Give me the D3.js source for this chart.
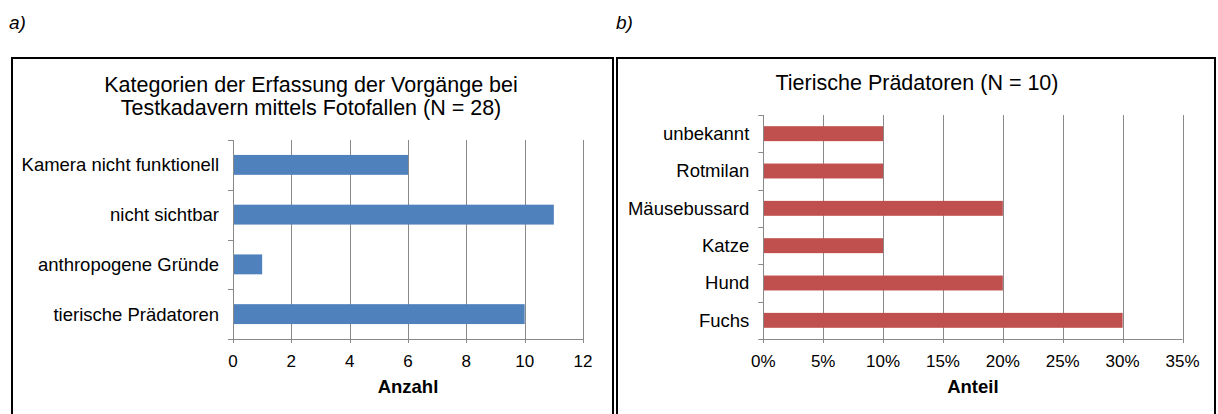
<!DOCTYPE html>
<meta charset="utf-8" />
<style>
  body { margin: 0; background: #fff; }
  svg text { font-family: "Liberation Sans", Arial, sans-serif; fill: #000; }
</style>
<script src="https://cdnjs.cloudflare.com/ajax/libs/d3/7.8.5/d3.min.js"></script>
<svg id="chart" width="1218" height="414"></svg>
<script>
  // chart a) Kategorien
  const catsA = ["Kamera nicht funktionell", "nicht sichtbar", "anthropogene Gründe", "tierische Prädatoren"];
  const valsA = [6, 11, 1, 10];
  const ticksA = [0, 2, 4, 6, 8, 10, 12];

  // chart b) Tierische Prädatoren (Anteil)
  const catsB = ["unbekannt", "Rotmilan", "Mäusebussard", "Katze", "Hund", "Fuchs"];
  const valsB = [0.10, 0.10, 0.20, 0.10, 0.20, 0.30];
  const ticksB = [0, 0.05, 0.10, 0.15, 0.20, 0.25, 0.30, 0.35];

  const svg = d3.select('#chart');
  const gridColor = '#898989';

  // panel letters
  svg.append('text').attr('x', 9).attr('y', 29).style('font-size', '19px')
    .style('font-style', 'italic').text('a)');
  svg.append('text').attr('x', 616).attr('y', 29).style('font-size', '19px')
    .style('font-style', 'italic').text('b)');

  // frames
  svg.append('path').attr('d', 'M12,420V58H613V420')
    .attr('fill', 'none').attr('stroke', '#000').attr('stroke-width', 2);
  svg.append('path').attr('d', 'M617,420V58H1215V420')
    .attr('fill', 'none').attr('stroke', '#000').attr('stroke-width', 2);

  function drawBars(opt) {
    const g = svg.append('g');
    const x = d3.scaleLinear().domain(opt.domain).range([opt.x0, opt.x1]);
    const y = d3.scaleBand().domain(opt.cats).range([opt.y0, opt.y1]).paddingInner(0.6).paddingOuter(0.3);

    // vertical gridlines (including tick stubs below axis)
    g.selectAll('.grid').data(opt.ticks).enter().append('line')
      .attr('x1', d => Math.round(x(d)) + 0.5).attr('x2', d => Math.round(x(d)) + 0.5)
      .attr('y1', opt.y0).attr('y2', opt.y1 + 4)
      .attr('stroke', gridColor).attr('stroke-width', 1);

    // bars
    g.selectAll('.bar').data(opt.vals).enter().append('rect')
      .attr('x', x(0)).attr('y', (d, i) => y(opt.cats[i]))
      .attr('width', d => x(d) - x(0)).attr('height', y.bandwidth())
      .attr('fill', opt.color);

    // x axis line
    g.append('line').attr('x1', x(0) - 5).attr('x2', x(opt.domain[1]))
      .attr('y1', opt.y1 + 0.5).attr('y2', opt.y1 + 0.5)
      .attr('stroke', gridColor);

    // y axis line with outward ticks at category boundaries
    g.append('line').attr('x1', Math.round(x(0)) + 0.5).attr('x2', Math.round(x(0)) + 0.5)
      .attr('y1', opt.y0).attr('y2', opt.y1)
      .attr('stroke', gridColor);
    const step = (opt.y1 - opt.y0) / opt.cats.length;
    g.selectAll('.yt').data(d3.range(opt.cats.length)).enter().append('line')
      .attr('x1', x(0) - 5).attr('x2', x(0))
      .attr('y1', i => Math.round(opt.y0 + i * step) + 0.5)
      .attr('y2', i => Math.round(opt.y0 + i * step) + 0.5)
      .attr('stroke', gridColor);

    // category labels
    g.selectAll('.cl').data(opt.cats).enter().append('text')
      .attr('x', x(0) - 14).attr('y', d => y(d) + y.bandwidth() / 2)
      .attr('dy', '0.35em').attr('text-anchor', 'end')
      .style('font-size', '18.5px').text(d => d);

    // tick labels
    g.selectAll('.tl').data(opt.ticks).enter().append('text')
      .attr('x', d => x(d)).attr('y', opt.y1 + 28)
      .attr('text-anchor', 'middle').style('font-size', '17px')
      .text(opt.fmt);

    // axis title
    g.append('text').attr('x', (opt.x0 + opt.x1) / 2).attr('y', opt.y1 + 54)
      .attr('text-anchor', 'middle').style('font-size', '18.5px')
      .style('font-weight', 'bold').text(opt.axisTitle);

    // chart title
    g.selectAll('.tt').data(opt.title).enter().append('text')
      .attr('x', opt.titleX).attr('y', (d, i) => opt.titleY + i * 23)
      .attr('text-anchor', 'middle').style('font-size', '21.5px')
      .text(d => d);
  }

  drawBars({
    cats: catsA, vals: valsA, ticks: ticksA, domain: [0, 12],
    x0: 233, x1: 583, y0: 140, y1: 339, color: '#4F81BD',
    fmt: d => d, axisTitle: 'Anzahl',
    title: ['Kategorien der Erfassung der Vorgänge bei', 'Testkadavern mittels Fotofallen (N = 28)'],
    titleX: 311, titleY: 92
  });

  drawBars({
    cats: catsB, vals: valsB, ticks: ticksB, domain: [0, 0.35],
    x0: 763.3, x1: 1182.5, y0: 115, y1: 339, color: '#C0504D',
    fmt: d3.format('.0%'), axisTitle: 'Anteil',
    title: ['Tierische Prädatoren (N = 10)'],
    titleX: 917, titleY: 90
  });
</script>
